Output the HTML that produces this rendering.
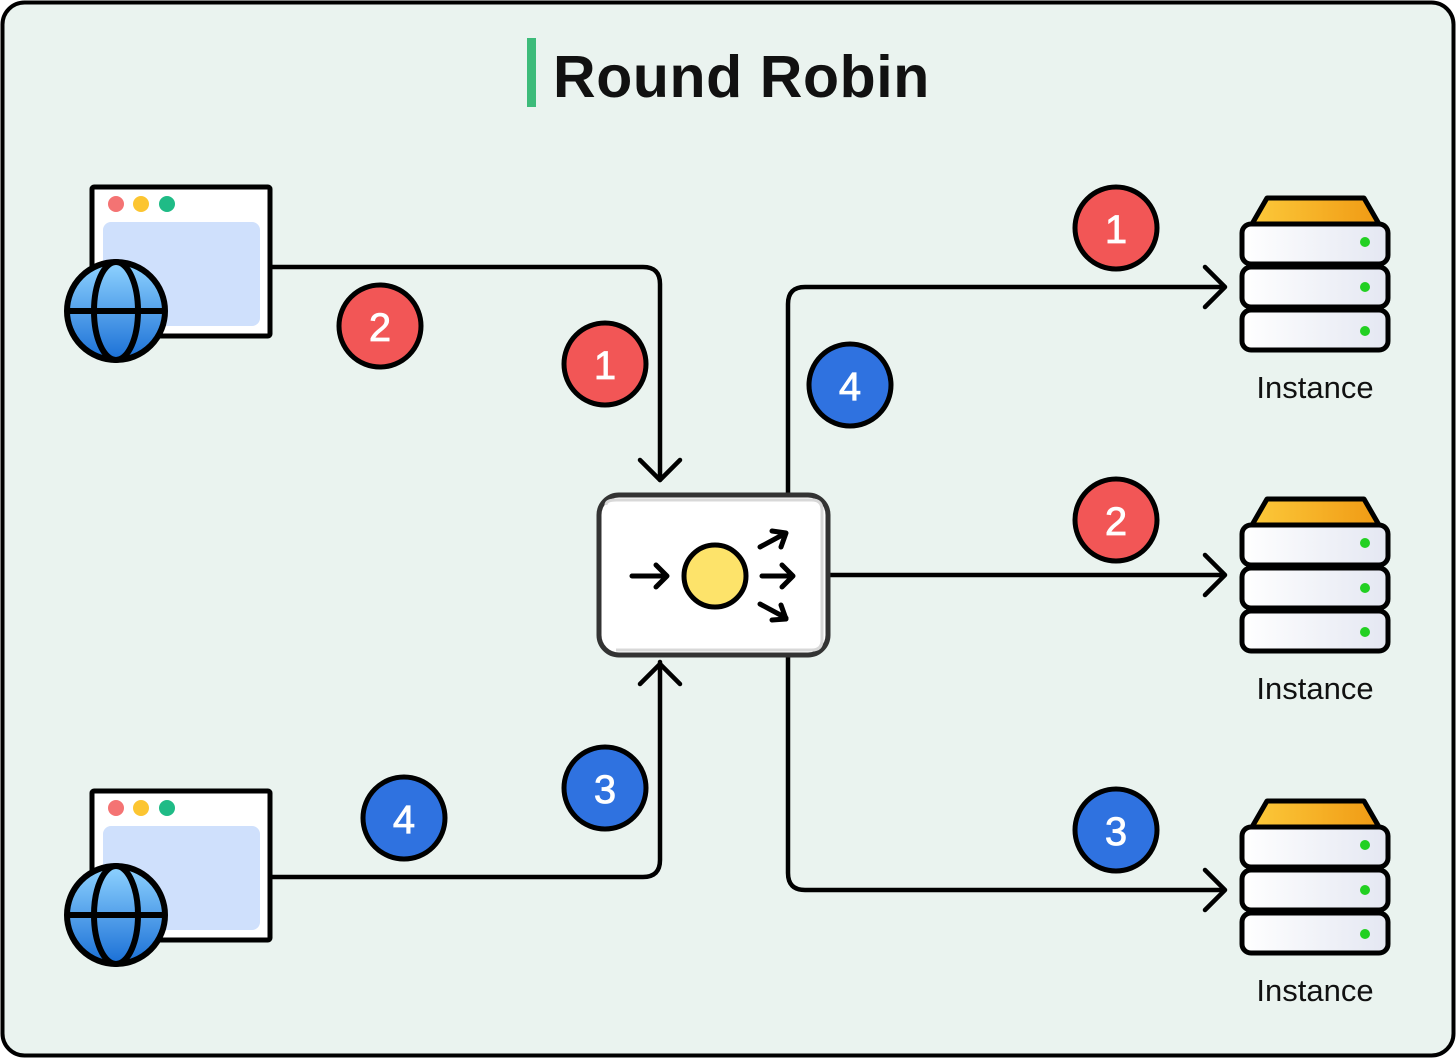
<!DOCTYPE html>
<html><head><style>html,body{margin:0;padding:0;background:#fff}svg{display:block}</style></head><body>
<svg width="1456" height="1058" viewBox="0 0 1456 1058" xmlns="http://www.w3.org/2000/svg" font-family="Liberation Sans, sans-serif">
<defs>
<linearGradient id="gl" x1="0" y1="0" x2="0" y2="1"><stop offset="0" stop-color="#8fd3ff"/><stop offset="1" stop-color="#1a6fd6"/></linearGradient>
<linearGradient id="go" x1="0" y1="0" x2="1" y2="0"><stop offset="0" stop-color="#fcc93a"/><stop offset="1" stop-color="#f09a14"/></linearGradient>
<linearGradient id="gs" x1="0" y1="0" x2="1" y2="0"><stop offset="0" stop-color="#fff"/><stop offset="1" stop-color="#e4e7f2"/></linearGradient>
<g id="win">
<rect x="92" y="0" width="178" height="149" fill="#fff" stroke="#000" stroke-width="5" rx="2"/>
<circle cx="116" cy="17" r="8" fill="#f47373"/><circle cx="141" cy="17" r="8" fill="#fcc531"/><circle cx="167" cy="17" r="8" fill="#1fbb86"/>
<rect x="103" y="35" width="157" height="104" rx="8" fill="#cfe0fc"/>
<circle cx="116" cy="124" r="49" fill="url(#gl)" stroke="#000" stroke-width="6"/>
<ellipse cx="116" cy="124" rx="22" ry="49" fill="none" stroke="#000" stroke-width="6"/>
<line x1="67" y1="124" x2="165" y2="124" stroke="#000" stroke-width="6"/>
</g>
<g id="srv">
<path d="M1252 224 L1267 198 L1364 198 L1379 224 Z" fill="url(#go)" stroke="#000" stroke-width="5" stroke-linejoin="round"/>
<rect x="1242" y="224" width="146" height="40" rx="9" fill="url(#gs)" stroke="#000" stroke-width="5"/>
<rect x="1242" y="267" width="146" height="40" rx="9" fill="url(#gs)" stroke="#000" stroke-width="5"/>
<rect x="1242" y="310" width="146" height="40" rx="9" fill="url(#gs)" stroke="#000" stroke-width="5"/>
<circle cx="1365" cy="242" r="5" fill="#22d022"/><circle cx="1365" cy="287" r="5" fill="#22d022"/><circle cx="1365" cy="331" r="5" fill="#22d022"/>
<text x="1315" y="398" font-size="31" text-anchor="middle" fill="#111">Instance</text>
</g>
</defs>
<rect x="2.5" y="2.5" width="1451" height="1053" rx="22" fill="#eaf3ef" stroke="#000" stroke-width="4"/>
<rect x="527" y="38" width="9" height="69" fill="#3dbb7a"/>
<text x="553" y="97" font-size="59" font-weight="bold" fill="#111" letter-spacing="0.6">Round Robin</text>

<g fill="none" stroke="#000" stroke-width="4.5" stroke-linecap="round" stroke-linejoin="round">
<path d="M271 267 H643 Q660 267 660 284 V480"/>
<path d="M640 460 L660 480 L680 460"/>
<path d="M271 877 H643 Q660 877 660 860 V662"/>
<path d="M640 684 L660 664 L680 684"/>
<path d="M788 494 V304 Q788 287 805 287 H1224"/>
<path d="M1205 267 L1225 287 L1205 307"/>
<path d="M830 575 H1224"/>
<path d="M1205 555 L1225 575 L1205 595"/>
<path d="M788 656 V873 Q788 890 805 890 H1224"/>
<path d="M1205 870 L1225 890 L1205 910"/>
</g>

<use href="#win" transform="translate(0,187)"/>
<use href="#win" transform="translate(0,791)"/>
<use href="#srv"/>
<use href="#srv" transform="translate(0,301)"/>
<use href="#srv" transform="translate(0,603)"/>

<rect x="599" y="495" width="229" height="160" rx="20" fill="#fff" stroke="#333" stroke-width="5"/>
<path d="M606 505 Q606 500 616 500 H812 Q822 500 822 510 V640 Q822 650 812 650 H616" fill="none" stroke="#d8d8d8" stroke-width="3"/>
<circle cx="715" cy="576" r="31" fill="#fde36a" stroke="#000" stroke-width="5"/>
<g fill="none" stroke="#000" stroke-width="5" stroke-linecap="round" stroke-linejoin="round">
<path d="M632 576 H666 M656 565 L667 576 L656 587"/>
<path d="M762 576 H792 M782 565 L793 576 L782 587"/>
<path d="M760 547 L786 533 M772 531 L786 533 L781 547"/>
<path d="M760 604 L786 618 M781 605 L786 619 L772 620"/>
</g>

<g stroke="#000" stroke-width="5" text-anchor="middle">
<circle cx="380" cy="326" r="41" fill="#f25656"/><circle cx="605" cy="364" r="41" fill="#f25656"/>
<circle cx="850" cy="385" r="41" fill="#2f72e0"/><circle cx="1116" cy="228" r="41" fill="#f25656"/>
<circle cx="1116" cy="520" r="41" fill="#f25656"/><circle cx="1116" cy="830" r="41" fill="#2f72e0"/>
<circle cx="605" cy="788" r="41" fill="#2f72e0"/><circle cx="404" cy="818" r="41" fill="#2f72e0"/>
</g>
<g fill="#fff" font-size="40" text-anchor="middle" stroke="#fff" stroke-width="0.8">
<text x="380" y="341">2</text><text x="605" y="379">1</text><text x="850" y="400">4</text>
<text x="1116" y="243">1</text><text x="1116" y="535">2</text><text x="1116" y="845">3</text>
<text x="605" y="803">3</text><text x="404" y="833">4</text>
</g>
</svg>
</body></html>
